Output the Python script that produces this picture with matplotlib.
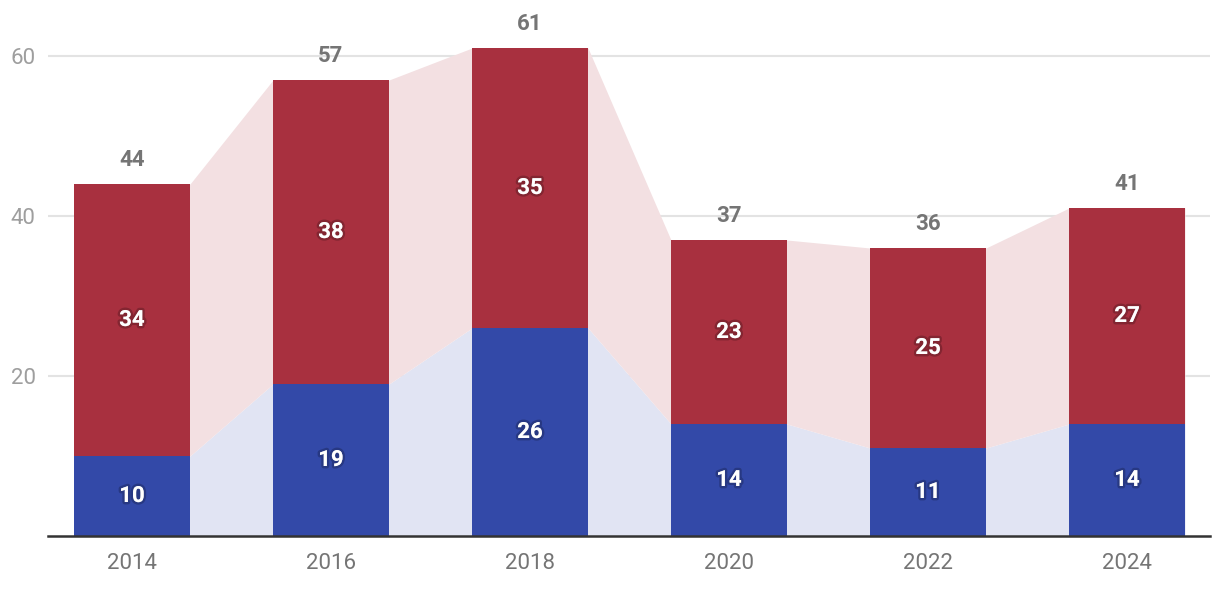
import matplotlib
matplotlib.use("Agg")
from matplotlib import pyplot as plt
from matplotlib import patheffects as pe
import numpy as np

years = ["2014", "2016", "2018", "2020", "2022", "2024"]
blue_vals = [10, 19, 26, 14, 11, 14]
red_vals = [34, 38, 35, 23, 25, 27]
y_ticks = [20, 40, 60]

RED = "#a8303f"
BLUE = "#3349a8"
RED_LIGHT = "#f3e0e2"
BLUE_LIGHT = "#e1e4f3"

plt.rcParams["font.family"] = ["Roboto", "DejaVu Sans"]


def step_edges(values, width):
    xs, ys = [], []
    for i, v in enumerate(values):
        xs += [i - width / 2, i + width / 2]
        ys += [v, v]
    return np.array(xs), np.array(ys)


def main():
    fig = plt.figure(figsize=(12.2, 5.92), dpi=100)
    ax = fig.add_axes([48 / 1220, 56 / 592, 1162 / 1220, 536 / 592])

    width = 0.583
    x = np.arange(len(years))
    blue = np.array(blue_vals)
    total = blue + np.array(red_vals)

    # light connecting areas behind bars
    xs, yb = step_edges(blue, width)
    _, yt = step_edges(total, width)
    ax.fill_between(xs, 0, yb, color=BLUE_LIGHT, lw=0, zorder=1)
    ax.fill_between(xs, yb, yt, color=RED_LIGHT, lw=0, zorder=1)

    ax.bar(x, blue, width, color=BLUE, zorder=2)
    ax.bar(x, red_vals, width, bottom=blue, color=RED, zorder=2)

    shadow = [pe.withStroke(linewidth=3.5, foreground=(0, 0, 0, 0.22))]
    for i in range(len(years)):
        ax.text(x[i], blue[i] / 2, str(blue[i]), ha="center", va="center",
                color="white", fontsize=16, fontweight="bold",
                path_effects=shadow, zorder=3)
        ax.text(x[i], blue[i] + red_vals[i] / 2, str(red_vals[i]),
                ha="center", va="center", color="white", fontsize=16,
                fontweight="bold", path_effects=shadow, zorder=3)
        ax.annotate(str(total[i]), (x[i], total[i]), xytext=(0, 17),
                    textcoords="offset points", ha="center", va="center",
                    color="#757575", fontsize=16, fontweight="bold", zorder=3)

    ax.set_xlim(-0.422, 5.417)
    ax.set_ylim(0, 67)
    ax.set_yticks(y_ticks)
    ax.set_xticks(x)
    ax.set_xticklabels(years)
    ax.grid(axis="y", color="#e3e3e3", lw=1.5, zorder=0)
    ax.set_axisbelow(True)
    for s in ["top", "right", "left"]:
        ax.spines[s].set_visible(False)
    ax.spines["bottom"].set_color("#333333")
    ax.spines["bottom"].set_linewidth(1.8)
    ax.spines["bottom"].set_zorder(4)
    ax.tick_params(axis="both", length=0, labelsize=16)
    ax.tick_params(axis="y", colors="#9e9e9e", pad=9)
    ax.tick_params(axis="x", colors="#757575", pad=12)

    fig.savefig("out.png", dpi=100)


if __name__ == "__main__":
    main()
